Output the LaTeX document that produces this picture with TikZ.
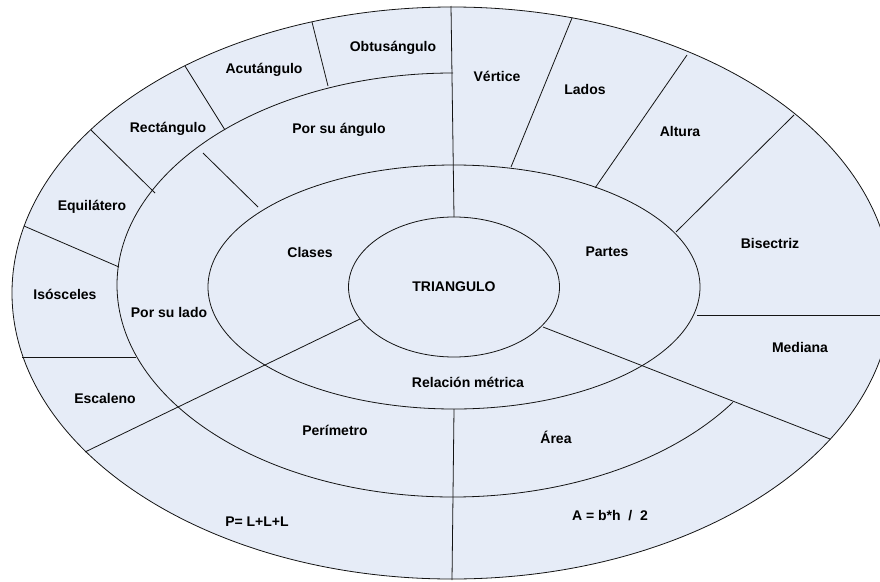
\documentclass[tikz,border=0pt]{standalone}
\usepackage{fontspec}
\setmainfont{Liberation Sans}
\usepackage{xcolor}
\definecolor{cRing}{HTML}{E6ECF7}
\definecolor{cLine}{HTML}{141414}
\usepackage{tikz}
\usetikzlibrary{positioning}
\tikzset{
  ring-fill/.style={fill=cRing},
  ring-line/.style={draw=cLine,line width=0.8pt},
  ring-label/.style={font=\fontsize{14}{16}\selectfont\bfseries,inner sep=0pt,anchor=center},
}

\begin{document}
\begin{tikzpicture}[x=1pt,y=-1pt]
  \clip (0,0) rectangle (880,581);
  % anillos
  \fill[ring-fill] (452,293) ellipse [x radius=440,y radius=286];
  \draw[ring-line] (452,293) ellipse [x radius=440,y radius=286];
  \draw[ring-line] (453,73) arc [start angle=270,end angle=33.6,x radius=336,y radius=212];
  \draw[ring-line] (454,287) ellipse [x radius=246,y radius=122];
  \draw[ring-line] (454,287) ellipse [x radius=105.5,y radius=70];

  % divisiones
  \draw[ring-line] (451,6) -- (454,217);
  \draw[ring-line] (454,409) -- (452,580);
  \draw[ring-line] (312,22) -- (328,86);
  \draw[ring-line] (185,66) -- (225,130);
  \draw[ring-line] (91,130) -- (155,193);
  \draw[ring-line] (24,226) -- (119,267);
  \draw[ring-line] (22,357) -- (136,357);
  \draw[ring-line] (85,452) -- (360,319);
  \draw[ring-line] (203,153) -- (258,207);
  \draw[ring-line] (572,18) -- (511,167);
  \draw[ring-line] (687,55) -- (595,188);
  \draw[ring-line] (794,115) -- (676,232);
  \draw[ring-line] (697,315) -- (880,315);
  \draw[ring-line] (543,327) -- (830,439);

  \node[ring-label] (tri) at (454,287) {TRIANGULO};
  \node[ring-label] (clases) at (310,252) {Clases};
  \node[ring-label] (partes) at (607,252) {Partes};
  \node[ring-label] (relacion) at (468,382) {Relación métrica};
  \node[ring-label] (angulo) at (339,130) {Por su ángulo};
  \node[ring-label] (lado) at (169,312) {Por su lado};
  \node[ring-label] (obtus) at (393,48) {Obtusángulo};
  \node[ring-label] (acut) at (264,70) {Acutángulo};
  \node[ring-label] (rect) at (168,129) {Rectángulo};
  \node[ring-label] (equil) at (92,207) {Equilátero};
  \node[ring-label] (isos) at (65,294) {Isósceles};
  \node[ring-label] (escal) at (105,398) {Escaleno};
  \node[ring-label] (vert) at (497,76) {Vértice};
  \node[ring-label] (lados) at (585,89) {Lados};
  \node[ring-label] (altura) at (680,131) {Altura};
  \node[ring-label] (bisec) at (770,243) {Bisectriz};
  \node[ring-label] (mediana) at (800,347) {Mediana};
  \node[ring-label] (perim) at (335,430) {Perímetro};
  \node[ring-label] (area) at (556,437) {Área};
  \node[ring-label] (perim-form) at (257,522) {P= L+L+L};
  \node[ring-label] (area-form) at (610,516) {A = b*h\ \ /\ \ 2};
\end{tikzpicture}
\end{document}
